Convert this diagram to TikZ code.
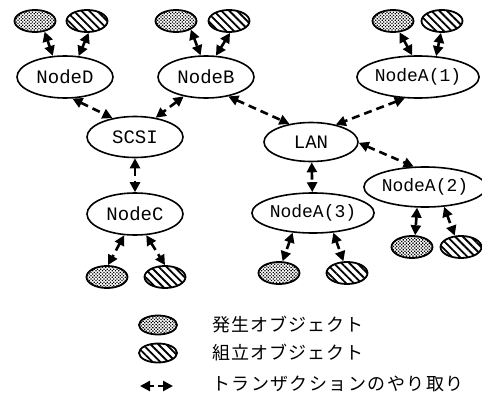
\documentclass[tikz,border=0pt]{standalone}
\usepackage{fontspec}
\setmonofont{Liberation Mono}
\newfontfamily\jpA[LetterSpace=6]{Noto Sans CJK JP}
\newfontfamily\jpB[LetterSpace=8]{Noto Sans CJK JP}
\usetikzlibrary{shapes.geometric,arrows.meta,patterns.meta}
\tikzset{
  mainnode/.style={ellipse, draw, line width=1.6pt, inner sep=0pt,
    minimum width=96pt, minimum height=42pt,
    font=\ttfamily\fontsize{19}{19}\selectfont},
  anode/.style={mainnode, font=\ttfamily\fontsize{18}{18}\selectfont},
  objbase/.style={ellipse, draw, line width=1.8pt, inner sep=0pt,
    minimum width=41pt, minimum height=22pt},
  genobj/.style={objbase, pattern={Dots[distance=2.3pt,radius=0.9pt,angle=45]}},
  asmobj/.style={objbase, pattern={Lines[angle=-45,distance=5.5pt,line width=1.8pt]}},
  conn/.style={line width=2.6pt, dash pattern=on 8pt off 5pt,
    {Triangle[length=10pt,width=10pt]}-{Triangle[length=10pt,width=10pt]}},
  legtext/.style={anchor=west, inner sep=0pt, font=\fontsize{18}{18}\selectfont}
}
\begin{document}
\begin{tikzpicture}[x=1pt,y=-1pt]
\useasboundingbox (0,0) rectangle (482,396);
% main nodes
\node[mainnode] (D) at (65,77) {NodeD};
\node[mainnode] (B) at (206,77) {NodeB};
\node[anode] (A1) at (418,77) {NodeA(1)};
\node[mainnode, minimum height=41pt] (S) at (135,137) {SCSI};
\node[mainnode] (C) at (135,214) {NodeC};
\node[mainnode, minimum width=94pt, minimum height=39pt] (L) at (311,142) {LAN};
\node[anode, minimum width=97pt, minimum height=40pt] (A3) at (313,213) {NodeA(3)};
\node[anode, minimum width=94pt, minimum height=40pt] (A2) at (425,187) {NodeA(2)};
% objects
\node[genobj] (d1) at (35,21) {};
\node[asmobj] (d2) at (87,21) {};
\node[genobj] (b1) at (176,21) {};
\node[asmobj] (b2) at (229,21) {};
\node[genobj] (a11) at (393,21) {};
\node[asmobj] (a12) at (442,21) {};
\node[genobj] (c1) at (107,277) {};
\node[asmobj] (c2) at (165,277) {};
\node[genobj] (a31) at (279,273) {};
\node[asmobj] (a32) at (347,273) {};
\node[genobj] (a21) at (412,247) {};
\node[asmobj] (a22) at (461,247) {};
% connectors
\draw[conn] (d1.-48) -- (D.120);
\draw[conn] (d2.-82) -- (D.57);
\draw[conn] (b1.-30) -- (B.104);
\draw[conn] (b2.-85) -- (B.65);
\draw[conn] (a11.-60) -- (A1.105);
\draw[conn] (a12.-95) -- (A1.49);
\draw[conn] (D.-71) -- (S.140);
\draw[conn] (B.-139) -- (S.43);
\draw[conn] (S.south) -- (C.north);
\draw[conn] (C.-117) -- (c1.85);
\draw[conn] (C.-62) -- (c2.90);
\draw[conn] (B.-41) -- (L.140);
\draw[conn] (A1.-122) -- (L.35);
\draw[conn] (L.-88) -- (A3.92);
\draw[conn] (L.-1) -- (A2.119);
\draw[conn] (A3.-136) -- (a31.73);
\draw[conn] (A3.-44) -- (a32.107);
\draw[conn] (A2.-111) -- (a21.75);
\draw[conn] (A2.-46) -- (a22.119);
% legend
\node[genobj, minimum width=38pt, minimum height=19pt] (leg1) at (158,325) {};
\node[asmobj, minimum width=38pt, minimum height=19pt] (leg2) at (158,353) {};
\coordinate (l1) at (140,386);
\coordinate (l2) at (173,386);
\draw[conn, dash pattern=on 5pt off 4pt] (l1) -- (l2);
\node[legtext] (t1) at (212,325) {\jpA 発生オブジェクト};
\node[legtext] (t2) at (212,353) {\jpA 組立オブジェクト};
\node[legtext] (t3) at (212,384) {\jpB トランザクションのやり取り};
\end{tikzpicture}
\end{document}
